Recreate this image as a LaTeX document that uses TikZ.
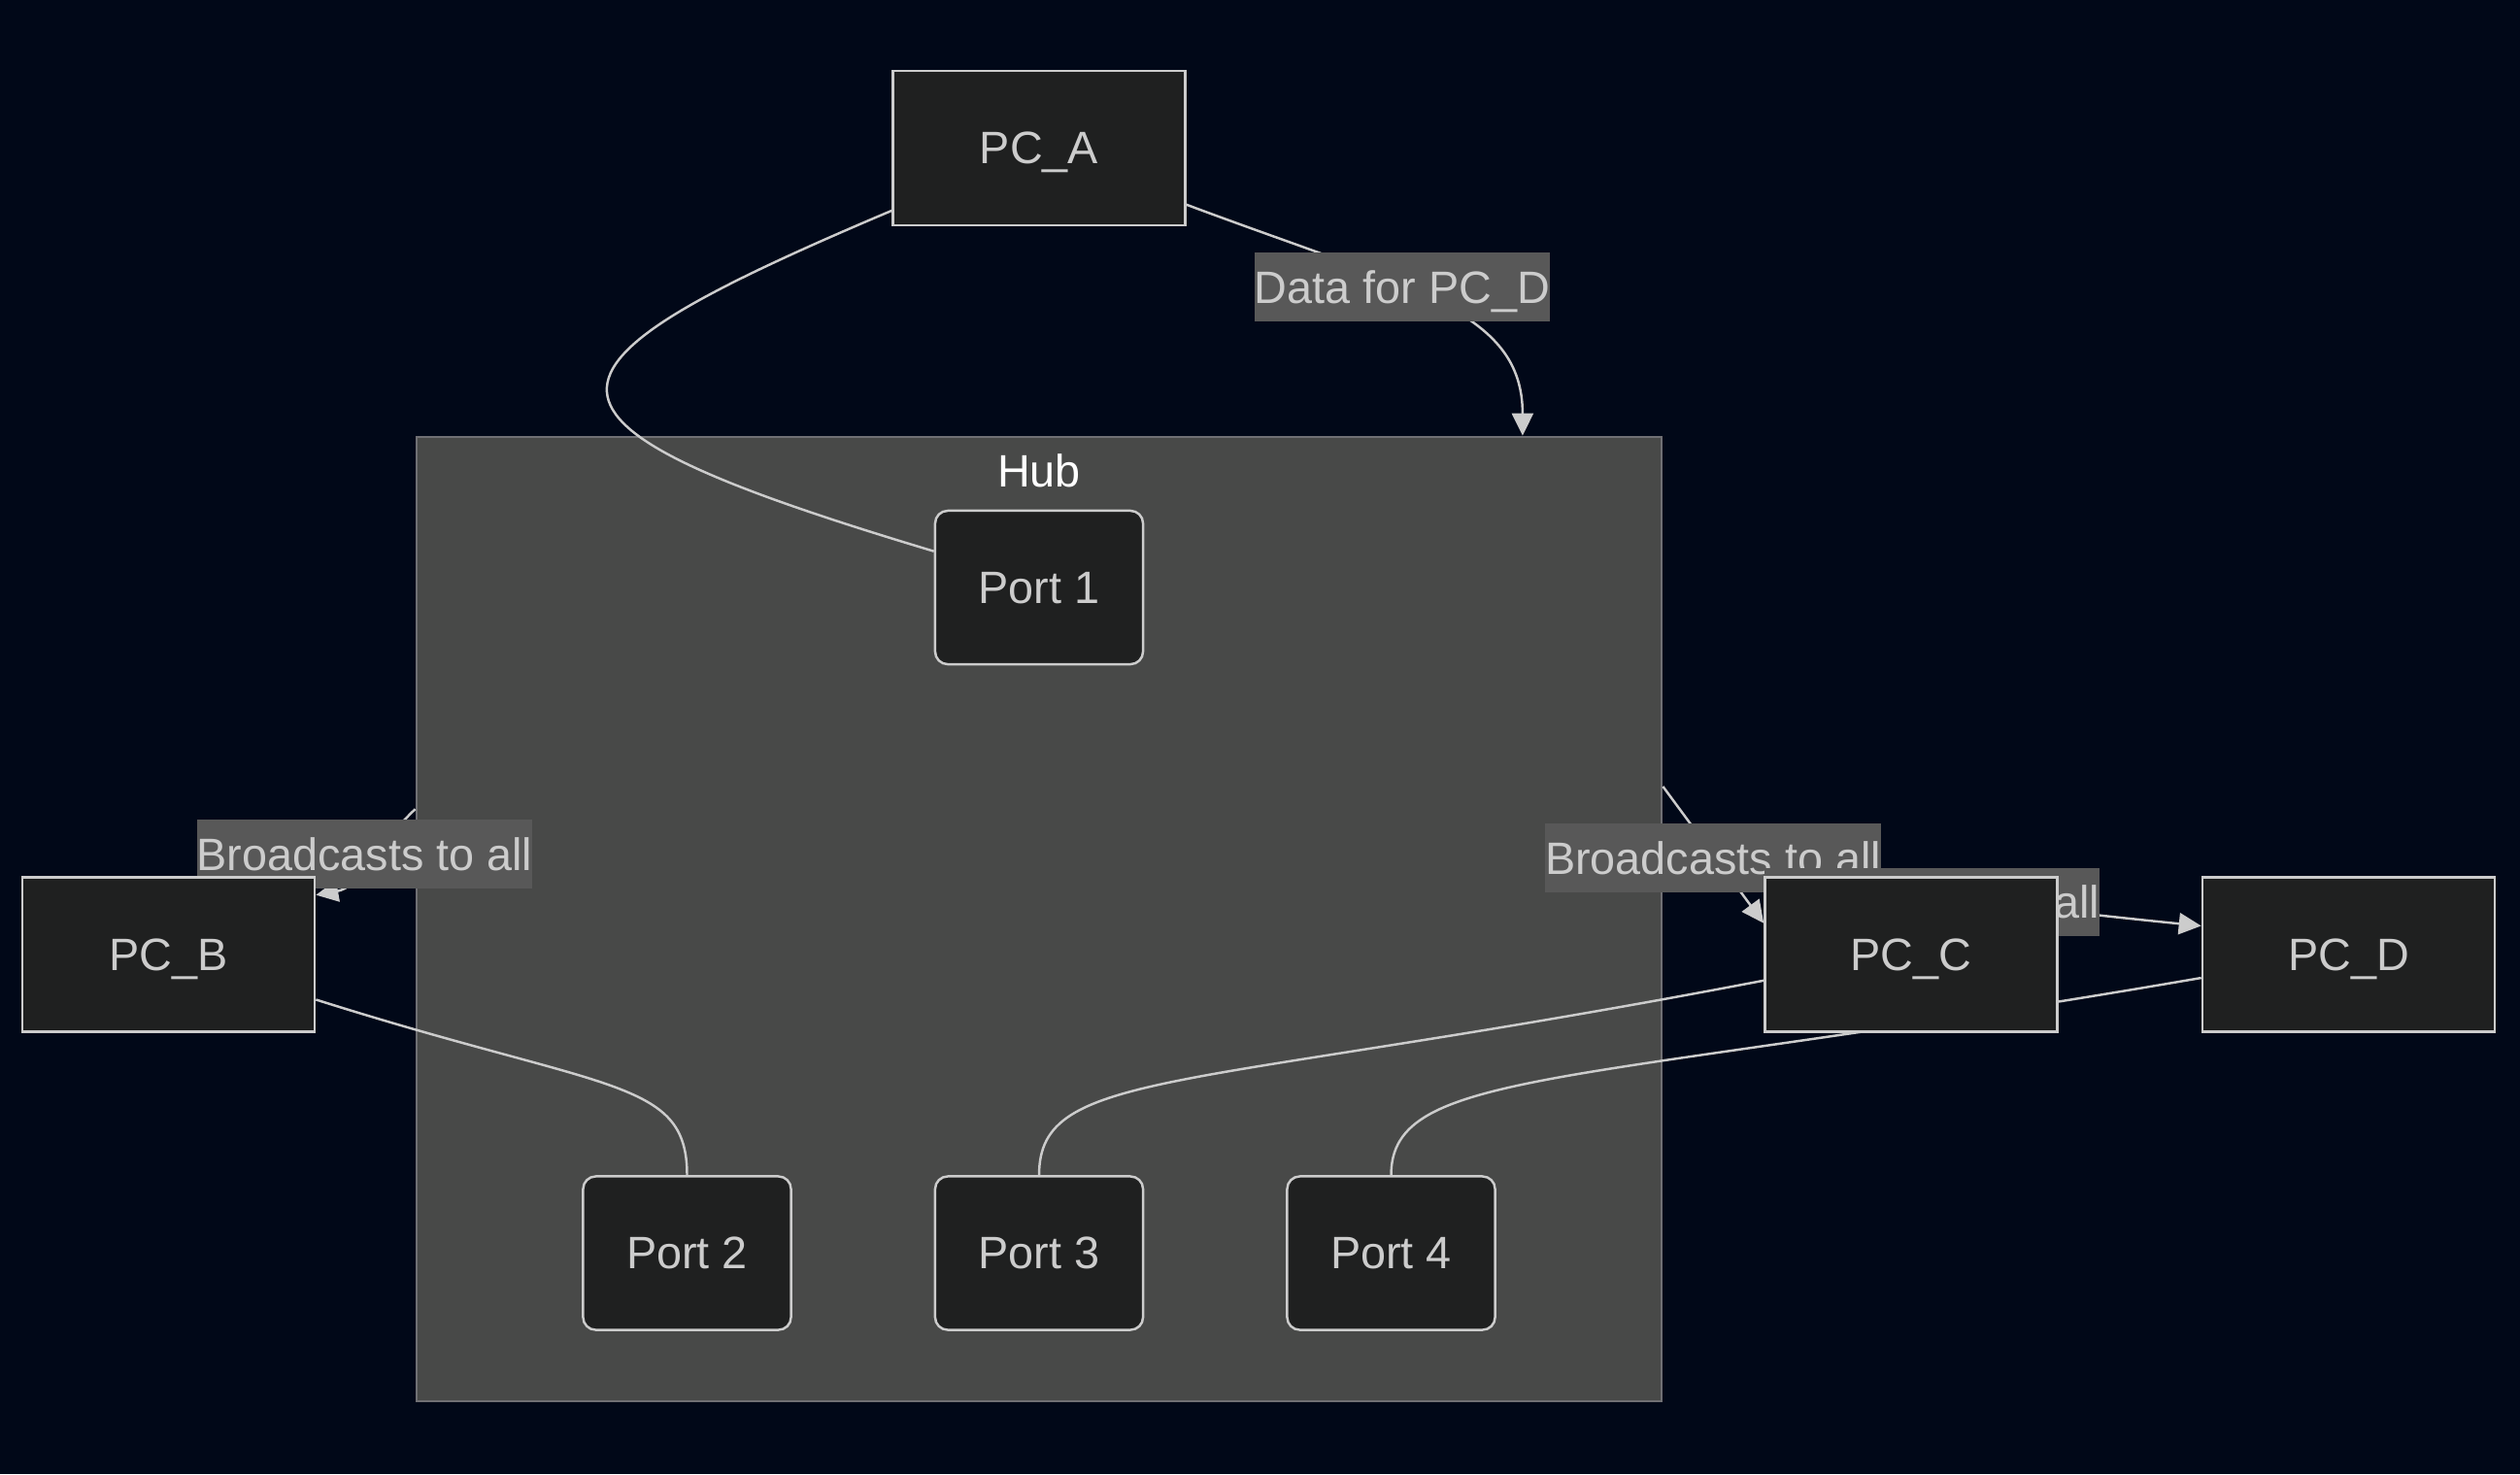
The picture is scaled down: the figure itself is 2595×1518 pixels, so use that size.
\documentclass[tikz,border=0pt]{standalone}
\usepackage{fontspec}
\setmainfont{Liberation Sans}
\usetikzlibrary{arrows.meta, calc}
\definecolor{bgnavy}{RGB}{1,8,24}
\definecolor{hubgrey}{RGB}{72,73,72}
\definecolor{hubline}{RGB}{112,112,116}
\definecolor{boxfill}{RGB}{31,32,32}
\definecolor{boxline}{RGB}{204,204,204}
\definecolor{tagfill}{RGB}{88,88,88}
\pgfdeclarelayer{back}
\pgfdeclarelayer{wires}
\pgfsetlayers{back,wires,main}

\begin{document}
\begin{tikzpicture}[x=0.01cm, y=-0.01cm,
        every node/.style={font=\fontsize{13.3}{16}\selectfont, text=boxline, text depth=0pt},
        pc/.style={draw=boxline, fill=boxfill, line width=0.7pt, inner sep=0pt,
            minimum width=3.01cm, minimum height=1.59cm},
        port/.style={pc, rounded corners=0.13cm, minimum width=2.14cm, minimum height=1.58cm},
        wire/.style={draw=boxline, line width=0.7pt},
        tag/.style={fill=tagfill, inner xsep=0pt, inner ysep=0pt, minimum height=0.7cm},
        tip/.style={arrows={-{Triangle[length=0.23cm, width=0.22cm]}}}]
    \useasboundingbox (0, 0) rectangle (2595, 1518);
    \begin{pgfonlayer}{back}
        \fill [bgnavy] (0, 0) rectangle (2595, 1518);
        \node [draw=hubline, fill=hubgrey, line width=0.6pt, minimum width=12.82cm,
            minimum height=9.93cm] (hub) at (1070, 946.5) {};
    \end{pgfonlayer}
    \node [text=white] (hubtitle) at (1070, 485) {Hub};
    \node [pc] (pca) at (1070, 152.5) {PC\_A};
    \node [pc] (pcb) at (173.5, 983) {PC\_B};
    \node [pc] (pcc) at (1968, 983) {PC\_C};
    \node [pc] (pcd) at (2418.5, 983) {PC\_D};
    \node [port] (port1) at (1070, 605) {Port 1};
    \node [port] (port2) at (707.5, 1290.5) {Port 2};
    \node [port] (port3) at (1070, 1290.5) {Port 3};
    \node [port] (port4) at (1432.5, 1290.5) {Port 4};
    \begin{pgfonlayer}{wires}
        \path [wire] (pca.203) .. controls +(-390, 165) and +(-450, -135) .. (port1.161);
        \path [wire, tip] (pca.339) .. controls +(230, 86) and +(0, -130) .. (hub.45);
        \path [wire, tip] (hub.170) .. controls +(-40, 38) and +(45, -8) .. (pcb.22);
        \path [wire, tip] (hub.12) -- (pcc.168);
        \path [wire, tip] (hub.6) .. controls +(100, 20) and +(-250, -25) .. (pcd.169);
        \path [wire] (pcb.343) .. controls +(300, 95) and +(0, -100) .. (port2.north);
        \path [wire] (pcc.190) .. controls +(-600, 115) and +(0, -110) .. (port3.north);
        \path [wire] (pcd.189) .. controls +(-650, 112) and +(0, -110) .. (port4.north);
        \node [tag] (tagdata) at (1444, 295.5) {Data for PC\_D};
        \node [tag] (tagb) at (375.5, 879.5) {Broadcasts to all};
        \node [tag] (tagc) at (1764, 883.5) {Broadcasts to all};
        \node [tag] (tagd) at (1989.5, 929) {Broadcasts to all};
    \end{pgfonlayer}
\end{tikzpicture}
\end{document}
